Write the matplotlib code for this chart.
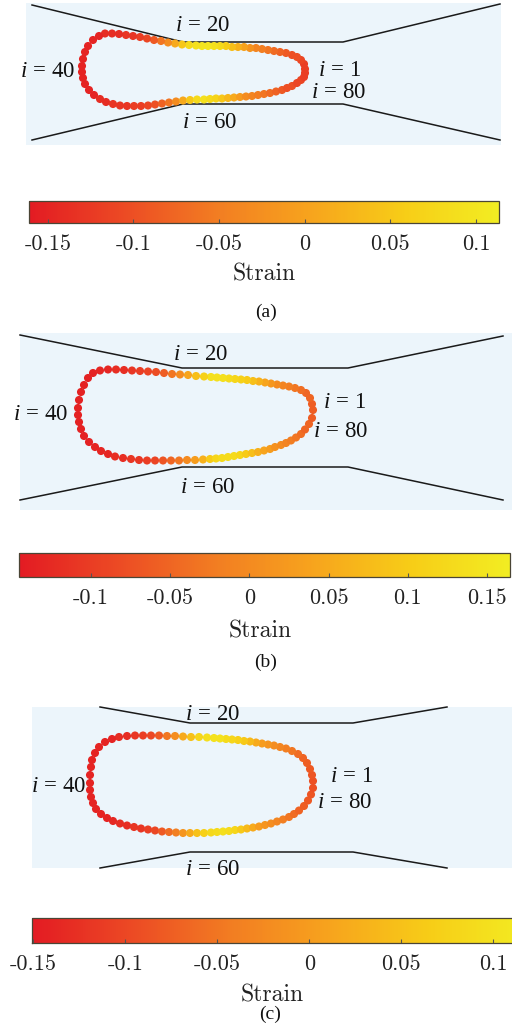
import numpy as np
import matplotlib.pyplot as plt
from matplotlib.colors import LinearSegmentedColormap, Normalize
from matplotlib.cm import ScalarMappable

plt.rcParams['mathtext.fontset'] = 'custom'
plt.rcParams['mathtext.rm'] = 'Liberation Serif'
plt.rcParams['mathtext.it'] = 'Liberation Serif:italic'

W, H = 512, 1029

# ---- panel (a): droplet points i=1..80, and strain
xa = [305, 304, 301, 297, 292, 286, 280, 274, 268, 262, 256, 250, 244, 238, 232, 226, 220, 214, 208, 202,
      196, 189, 182, 175, 168, 161, 154, 147, 140, 133, 126, 119, 112, 105, 99, 93, 88, 85, 83, 82,
      82, 83, 85, 89, 94, 100, 106, 113, 120, 127, 134, 141, 148, 155, 162, 169, 176, 183, 190, 197,
      204, 210, 216, 222, 228, 234, 240, 246, 252, 258, 264, 270, 276, 282, 287, 292, 297, 301, 304, 305]
ya = [69, 64, 60, 57, 55, 53, 52, 51, 50, 49, 48, 48, 47, 47, 47, 46, 46, 46, 46, 46,
      45.5, 45, 44.5, 43.5, 42.5, 41, 40, 38.5, 37, 36, 35, 34, 33.5, 33.5, 36, 40, 46, 52, 59, 66,
      72, 78, 84, 90, 95, 99, 102, 104, 105.5, 106, 106, 106, 105.5, 104.5, 103.5, 102.5, 101.5, 100.5, 100, 99.5,
      99.5, 99, 98.5, 98.5, 98, 97.5, 97, 96.5, 96, 95, 94, 93, 91.5, 90, 88, 86, 83, 80, 77, 73]
sa = [-0.12, -0.12, -0.11, -0.10, -0.10, -0.09, -0.08, -0.07, -0.06, -0.05, -0.04, -0.02, 0.0, 0.02, 0.04, 0.06, 0.08, 0.09, 0.10, 0.10,
      0.09, 0.08, 0.05, 0.01, -0.03, -0.06, -0.09, -0.11, -0.12, -0.13, -0.13, -0.14, -0.14, -0.14, -0.15, -0.15, -0.15, -0.15, -0.15, -0.15,
      -0.15, -0.15, -0.15, -0.15, -0.15, -0.14, -0.14, -0.13, -0.13, -0.13, -0.12, -0.12, -0.11, -0.10, -0.08, -0.06, -0.03, 0.01, 0.05, 0.08,
      0.09, 0.08, 0.07, 0.05, 0.03, 0.01, -0.01, -0.03, -0.04, -0.05, -0.06, -0.07, -0.08, -0.09, -0.10, -0.10, -0.11, -0.11, -0.12, -0.12]
wall_top_a = ([32, 183, 343, 500], [5, 42, 42, 4])
wall_bot_a = ([32, 183, 343, 500], [140, 104, 104, 140])
range_a = (-0.161, 0.1134)
ticks_a = [-0.15, -0.1, -0.05, 0, 0.05, 0.1]

# ---- panel (b)
xb = [313, 312, 310, 306, 301, 295, 289, 283, 277, 271, 265, 259, 253, 247, 241, 235, 229, 223, 217, 211,
      204, 196, 188, 180, 172, 164, 156, 148, 140, 132, 124, 116, 108, 100, 93, 88, 84, 81, 79, 78,
      78, 79, 81, 84, 89, 95, 101, 108, 115, 123, 131, 139, 147, 155, 163, 171, 179, 187, 195, 203,
      210, 216, 222, 228, 234, 240, 246, 252, 258, 264, 270, 275, 281, 286, 291, 296, 301, 305, 309, 312]
yb = [410, 404, 398, 393, 390, 388, 386.5, 385.5, 384.5, 383.5, 382.5, 381.5, 381, 380, 379.5, 379, 378.5, 378, 377.5, 377,
      376.5, 376, 375, 374.5, 374, 373, 372, 371.5, 371, 370.5, 370, 369.5, 369.5, 370.5, 373, 378, 385, 392, 400, 408,
      415, 422, 429, 436, 442, 447, 451, 454, 456.5, 458, 459, 460, 460.5, 460.5, 460.5, 460.5, 460.5, 460, 460, 459.5,
      459, 458.5, 458, 457, 456, 455, 454, 453, 452, 450.5, 449, 447, 445, 443, 440.5, 437.5, 434, 429.5, 424, 418]
sb = [-0.06, -0.06, -0.05, -0.05, -0.04, -0.03, -0.02, -0.01, 0.0, 0.02, 0.04, 0.06, 0.08, 0.10, 0.11, 0.12, 0.13, 0.14, 0.14, 0.14,
      0.11, 0.08, 0.04, 0.0, -0.03, -0.06, -0.08, -0.09, -0.10, -0.11, -0.12, -0.12, -0.13, -0.13, -0.135, -0.135, -0.135, -0.135, -0.135, -0.135,
      -0.135, -0.135, -0.135, -0.135, -0.135, -0.13, -0.13, -0.13, -0.12, -0.12, -0.11, -0.11, -0.10, -0.09, -0.07, -0.05, -0.03, 0.0, 0.03, 0.06,
      0.10, 0.12, 0.13, 0.13, 0.13, 0.12, 0.10, 0.08, 0.06, 0.04, 0.03, 0.01, 0.0, -0.01, -0.02, -0.03, -0.04, -0.05, -0.05, -0.06]
wall_top_b = ([20, 182, 348, 503], [335, 368, 368, 336])
wall_bot_b = ([20, 182, 348, 503], [500, 467, 467, 500])
range_b = (-0.1455, 0.1645)
ticks_b = [-0.1, -0.05, 0, 0.05, 0.1, 0.15]

# ---- panel (c)
xc = [313, 312, 310, 307, 303, 298, 292, 286, 280, 274, 268, 262, 256, 250, 244, 238, 232, 226, 220, 214,
      207, 199, 191, 183, 175, 167, 159, 151, 143, 135, 127, 119, 112, 105, 99, 95, 92, 91, 90, 90,
      90, 91, 93, 96, 101, 107, 113, 120, 127, 134, 141, 148, 155, 162, 169, 176, 183, 190, 197, 204,
      211, 217, 223, 229, 235, 241, 247, 253, 259, 265, 271, 277, 283, 289, 294, 299, 304, 308, 311, 313]
yc = [781, 775, 769, 763, 758, 754, 751, 748.5, 747, 745.5, 744.5, 743.5, 742.5, 741.5, 741, 740, 739.5, 739, 738.5, 738,
      737.5, 737, 737, 736.5, 736, 736, 735.5, 735.5, 735.5, 735.5, 736, 737, 739, 742, 747, 753, 760, 767, 775, 783,
      790, 797, 803, 809, 814, 818, 821, 823.5, 825.5, 827, 828.5, 829.5, 830.5, 831.5, 832, 832.5, 833, 833, 833, 833,
      832.5, 832, 831.5, 831, 830, 829.5, 828.5, 827.5, 826.5, 825, 823.5, 821.5, 819.5, 817, 814, 810.5, 806, 800.5, 794.5, 788]
sc = [-0.09, -0.085, -0.08, -0.075, -0.07, -0.06, -0.05, -0.04, -0.03, -0.02, -0.01, 0.0, 0.02, 0.04, 0.06, 0.07, 0.08, 0.09, 0.10, 0.10,
      0.095, 0.08, 0.05, 0.02, -0.02, -0.05, -0.08, -0.10, -0.11, -0.12, -0.13, -0.13, -0.14, -0.14, -0.14, -0.14, -0.14, -0.14, -0.14, -0.14,
      -0.14, -0.14, -0.14, -0.14, -0.14, -0.14, -0.135, -0.13, -0.13, -0.12, -0.12, -0.11, -0.10, -0.08, -0.06, -0.04, -0.01, 0.02, 0.05, 0.07,
      0.085, 0.09, 0.095, 0.09, 0.08, 0.06, 0.04, 0.02, 0.0, -0.01, -0.02, -0.03, -0.04, -0.05, -0.06, -0.07, -0.075, -0.08, -0.085, -0.09]
wall_top_c = ([100, 190, 353, 447], [707, 723, 723, 707])
wall_bot_c = ([100, 190, 353, 447], [868, 852, 852, 868])
range_c = (-0.1508, 0.1200)
ticks_c = [-0.15, -0.1, -0.05, 0, 0.05, 0.1]

point_labels = [r'$i\,{=}\,1$', r'$i\,{=}\,20$', r'$i\,{=}\,40$', r'$i\,{=}\,60$', r'$i\,{=}\,80$']

cmap = LinearSegmentedColormap.from_list(
    'strain', ['#e31b23', '#ec4a24', '#f27d22', '#f7a41d', '#f7cd17', '#f2ed22'])
bg_color = '#ecf5fb'


def frac(x0, y0, x1, y1):
    return [x0 / W, 1 - y1 / H, (x1 - x0) / W, (y1 - y0) / H]


fig = plt.figure(figsize=(W / 100, H / 100), dpi=100)


def draw_panel(bg, xs, ys, ss, wtop, wbot, vrange, lab_pos):
    ax = fig.add_axes(frac(*bg))
    ax.set_facecolor(bg_color)
    ax.set_xlim(bg[0], bg[2])
    ax.set_ylim(bg[3], bg[1])
    ax.set_xticks([])
    ax.set_yticks([])
    for sp in ax.spines.values():
        sp.set_visible(False)
    ax.plot(*wtop, color='#1a1a1a', lw=1.1, clip_on=False)
    ax.plot(*wbot, color='#1a1a1a', lw=1.1, clip_on=False)
    norm = Normalize(*vrange)
    ax.scatter(xs, ys, c=ss, cmap=cmap, norm=norm, s=34, linewidths=0, zorder=3)
    for txt, (x, y) in zip(point_labels, lab_pos):
        ax.text(x, y, txt, fontsize=16.5, ha='left', va='baseline', color='#111111', clip_on=False)
    return norm


def draw_cbar(box, norm, ticks, strain_xy, cap, cap_xy):
    cax = fig.add_axes(frac(*box))
    cb = fig.colorbar(ScalarMappable(norm=norm, cmap=cmap), cax=cax, orientation='horizontal')
    cb.set_ticks(ticks)
    cb.set_ticklabels(['{:g}'.format(t) for t in ticks])
    cb.outline.set_edgecolor('#4a4535')
    cb.outline.set_linewidth(0.9)
    cax.tick_params(axis='x', direction='in', length=3, width=0.8, color='#555555',
                    labelsize=16, pad=8, labelcolor='#222222')
    for lbl in cax.get_xticklabels():
        lbl.set_fontfamily('cmr10')
    fig.text(strain_xy[0] / W, 1 - strain_xy[1] / H, 'Strain', fontfamily='cmr10',
             fontsize=17, ha='center', va='baseline', color='#222222')
    fig.text(cap_xy[0] / W, 1 - cap_xy[1] / H, cap, fontfamily='Liberation Serif',
             fontsize=14, ha='center', va='center', color='#111111')


# order of label positions: i=1, i=20, i=40, i=60, i=80 (left x, baseline y)
norm_a = draw_panel((26, 3, 501, 145), xa, ya, sa, wall_top_a, wall_bot_a, range_a,
                    [(318, 76), (175, 31), (20, 77), (182, 128), (311, 98)])
draw_cbar((29, 201, 499, 223), norm_a, ticks_a, (264, 280), '(a)', (266, 312))

norm_b = draw_panel((20, 333, 512, 510), xb, yb, sb, wall_top_b, wall_bot_b, range_b,
                    [(323, 408), (173, 360), (13, 420), (180, 493), (313, 437)])
draw_cbar((19, 553, 510, 577), norm_b, ticks_b, (260, 637), '(b)', (266, 662))

norm_c = draw_panel((32, 707, 512, 868), xc, yc, sc, wall_top_c, wall_bot_c, range_c,
                    [(330, 782), (185, 720), (31, 792), (185, 875), (317, 808)])
draw_cbar((32, 918, 530, 943), norm_c, ticks_c, (272, 1002), '(c)', (270, 1014))

fig.savefig('out.png', dpi=100)
